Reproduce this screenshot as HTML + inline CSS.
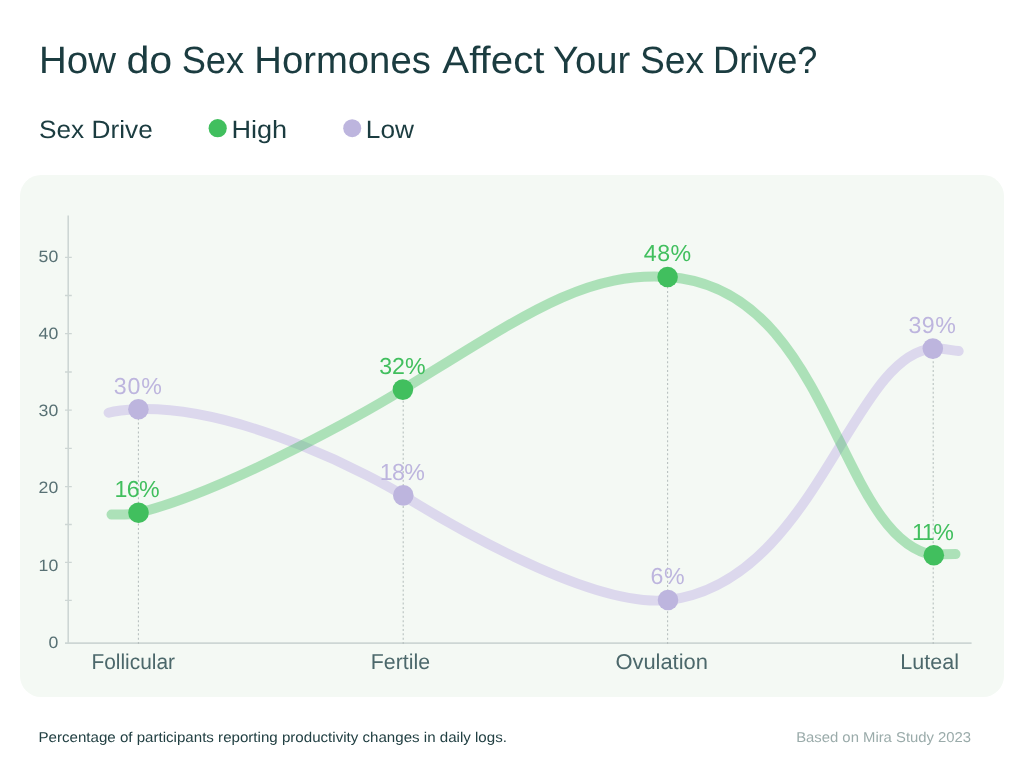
<!DOCTYPE html>
<html><head><meta charset="utf-8"><title>How do Sex Hormones Affect Your Sex Drive?</title><style>
html,body{margin:0;padding:0;background:#fff;}
body{width:1024px;height:774px;overflow:hidden;position:relative;font-family:"Liberation Sans",Arial,sans-serif;}
svg{position:absolute;left:0;top:0;display:block;}
</style></head><body>
<svg width="1024" height="774" viewBox="0 0 1024 774" font-family="Liberation Sans, Arial, sans-serif" text-rendering="geometricPrecision">
<rect width="1024" height="774" fill="#ffffff"/>
<g font-size="38" fill="#1b3c40">
<text transform="translate(39.07,72.7) scale(1.011,1)">How</text>
<text transform="translate(126.48,72.7) scale(1.0828,1)">do</text>
<text transform="translate(181.69,72.7) scale(0.953,1)">Sex</text>
<text transform="translate(254.28,72.7) scale(1.007,1)">Hormones</text>
<text transform="translate(442.34,72.7) scale(1.0583,1)">Affect</text>
<text transform="translate(553.04,72.7) scale(1.0067,1)">Your</text>
<text transform="translate(640.04,72.7) scale(0.9785,1)">Sex</text>
<text transform="translate(713.05,72.7) scale(0.9507,1)">Drive?</text>
</g>
<g font-size="25" fill="#1b3c40">
<text transform="translate(38.99,137.5) scale(1.05,1)">Sex Drive</text>
<text transform="translate(231.4,137.5) scale(1.085,1)">High</text>
<text transform="translate(365.8,137.5) scale(1.05,1)">Low</text>
</g>
<circle cx="217.7" cy="128.2" r="9.1" fill="#41bf5e"/>
<circle cx="352.2" cy="128.2" r="9" fill="#bdb5de"/>
<rect x="20" y="175" width="984" height="522" rx="21" fill="#f4f9f4"/>
<g stroke="#cdd6d4" stroke-width="1.6" fill="none">
<path d="M68.2,215.5 V643.1 M65,643.1 H971.6"/>
<path d="M65,257.3H71.8 M65,295.5H71.8 M65,333.7H71.8 M65,372H71.8 M65,410.2H71.8 M65,448.4H71.8 M65,486.6H71.8 M65,524.5H71.8 M65,562.4H71.8 M65,600.3H71.8" stroke-width="1.3"/>
</g>
<g font-size="16.4" fill="#587174" text-anchor="end">
<text transform="translate(58.3,262.2) scale(1.08,1)">50</text>
<text transform="translate(58.3,339.1) scale(1.08,1)">40</text>
<text transform="translate(58.3,416.1) scale(1.08,1)">30</text>
<text transform="translate(58.3,493.4) scale(1.08,1)">20</text>
<text transform="translate(58.3,570.6) scale(1.08,1)">10</text>
<text transform="translate(58.3,647.9) scale(1.08,1)">0</text>
</g>
<g stroke="#b5bebd" stroke-width="1.05" stroke-dasharray="2 2.39">
<path d="M138.4,644.1 V409"/>
<path d="M403.2,644.1 V390"/>
<path d="M667.6,644.1 V277"/>
<path d="M933.2,644.1 V348"/>
</g>
<path d="M108.6,412.7 C116,410.6 128,409.6 138.4,409.2 C243.6,406.2 379.1,480.2 403.3,495.4 C428.2,511.0 587.1,609.2 668.0,600.0 C815.6,583.2 851.1,354.9 932.8,348.6 C941.4,347.9 950.1,350.3 958.7,351.1" fill="none" stroke="#dcd8ed" stroke-width="10" stroke-linecap="round"/>
<path d="M111.5,514.5 C120.4,514.7 129.7,515.0 138.5,512.8 C232.5,489.4 378.5,404.6 402.9,389.6 C529.0,312.0 584.7,272.1 667.6,277.0 C832.0,286.7 836.0,538.0 933.8,555.3 C940,554.3 948,554.1 955.5,554.1" fill="none" stroke="#41bf5e" stroke-opacity="0.4" stroke-width="10" stroke-linecap="round"/>
<g fill="#bdb5de">
<circle cx="138.4" cy="409.2" r="10.3"/>
<circle cx="403.3" cy="495.4" r="10.3"/>
<circle cx="668" cy="600" r="10.3"/>
<circle cx="932.8" cy="348.6" r="10.3"/>
</g>
<g fill="#41bf5e">
<circle cx="138.5" cy="512.8" r="10.3"/>
<circle cx="402.9" cy="389.6" r="10.3"/>
<circle cx="667.6" cy="277" r="10.3"/>
<circle cx="933.8" cy="555.3" r="10.3"/>
</g>
<g font-size="23.2">
<text x="113.8" y="393.6" letter-spacing="0.85" fill="#bdb5de">30%</text>
<text x="114.5" y="496.9" letter-spacing="-0.6" fill="#41bf5e">16%</text>
<text x="379.3" y="374.0" letter-spacing="-0.1" fill="#41bf5e">32%</text>
<text x="379.75" y="479.6" letter-spacing="-0.6" fill="#bdb5de">18%</text>
<text x="643.8" y="261.4" letter-spacing="0.45" fill="#41bf5e">48%</text>
<text x="650.6" y="584.2" letter-spacing="0.5" fill="#bdb5de">6%</text>
<text x="908.4" y="333.0" letter-spacing="0.5" fill="#bdb5de">39%</text>
<text x="912.1" y="539.7" letter-spacing="-1.5" fill="#41bf5e">11%</text>
</g>
<g font-size="21.5" fill="#4c686b">
<text transform="translate(91.4,669.2) scale(0.9714,1)">Follicular</text>
<text transform="translate(370.76,669.2) scale(0.993,1)">Fertile</text>
<text transform="translate(615.38,669.2) scale(1.0192,1)">Ovulation</text>
<text transform="translate(900.35,669.2)">Luteal</text>
</g>
<text transform="translate(38.44,741.8) scale(1.0645,1)" font-size="14.2" fill="#213f42">Percentage of participants reporting productivity changes in daily logs.</text>
<text transform="translate(796.15,741.8) scale(1.0465,1)" font-size="14.2" fill="#9aabaa">Based on Mira Study 2023</text>
</svg>
</body></html>
